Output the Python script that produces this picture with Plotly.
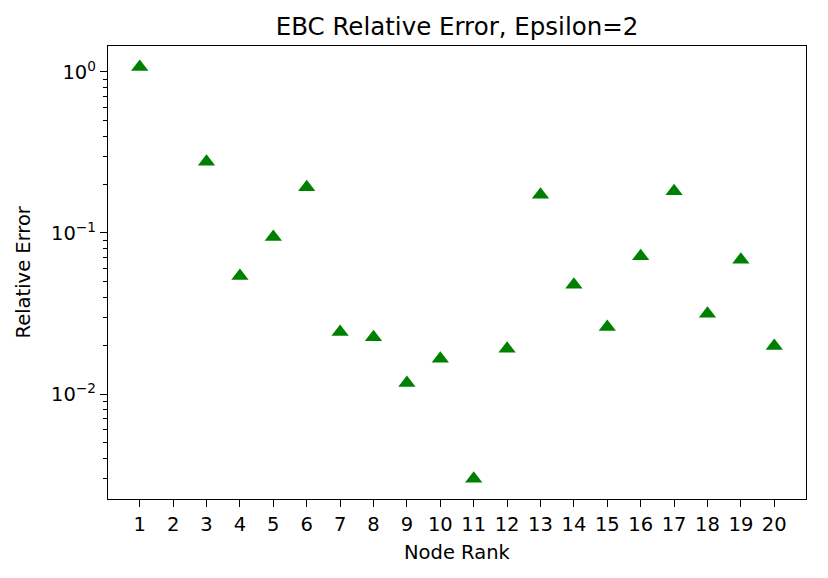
import plotly.graph_objects as go

node_rank = list(range(1, 21))
rel_error = [1.074, None, 0.2764, 0.0540, 0.0944, 0.1924, 0.02423, 0.02255, 0.01171, 0.01653,
             0.002974, 0.01908, 0.1730, 0.0477, 0.02602, 0.0717, 0.1817, 0.03148, 0.0682, 0.01983]
x_tick_labels = [str(i) for i in node_rank]
y_tick_vals = [1e-2, 1e-1, 1e0]
y_tick_text = ["10<sup>−2</sup>", "10<sup>−1</sup>", "10<sup>0</sup>"]
minor_vals = [m * 10 ** e for e in (-3, -2, -1, 0) for m in range(2, 10)]

FONT = "DejaVu Sans"
W, H = 828, 578
L, R, T, B = 108, 22, 46, 79

fig = go.Figure()
fig.add_trace(go.Scatter(
    x=node_rank, y=rel_error, mode="markers",
    marker=dict(symbol="triangle-up", color="#008000", size=15, line=dict(width=0)),
    showlegend=False,
))

fig.update_layout(
    width=W, height=H,
    margin=dict(l=L, r=R, t=T, b=B),
    paper_bgcolor="white", plot_bgcolor="white",
    font=dict(family=FONT, size=19.5, color="black"),
    title=dict(text="EBC Relative Error, Epsilon=2", x=457 / W, xanchor="center",
               y=1 - 26 / H, yanchor="middle", yref="container",
               font=dict(family=FONT, size=24.5, color="black")),
    annotations=[
        dict(text="Node Rank", xref="paper", yref="paper",
             x=0.5, y=1 - (552 - T) / (H - T - B), xanchor="center", yanchor="middle",
             showarrow=False, font=dict(family=FONT, size=19.5, color="black")),
        dict(text="Relative Error", xref="paper", yref="paper", textangle=-90,
             x=-(L - 23) / (W - L - R), y=0.5, xanchor="center", yanchor="middle",
             showarrow=False, font=dict(family=FONT, size=19.5, color="black")),
    ],
)
fig.update_xaxes(
    range=[0.05, 20.95], tickvals=node_rank, ticktext=x_tick_labels,
    showgrid=False, zeroline=False, showline=True, linecolor="black", linewidth=1.3,
    mirror=True, ticks="outside", ticklen=7, tickwidth=1.3, tickcolor="black",
    tickfont=dict(family=FONT, size=19.5),
)
fig.update_yaxes(
    type="log", range=[-2.652, 0.161], tickvals=y_tick_vals, ticktext=y_tick_text,
    showgrid=False, zeroline=False, showline=True, linecolor="black", linewidth=1.3,
    mirror=True, ticks="outside", ticklen=7, tickwidth=1.3, tickcolor="black",
    tickfont=dict(family=FONT, size=19.5),
    minor=dict(tickvals=minor_vals, ticks="outside", ticklen=4, tickwidth=1, tickcolor="black",
               showgrid=False),
)

fig.write_html("out.html")
